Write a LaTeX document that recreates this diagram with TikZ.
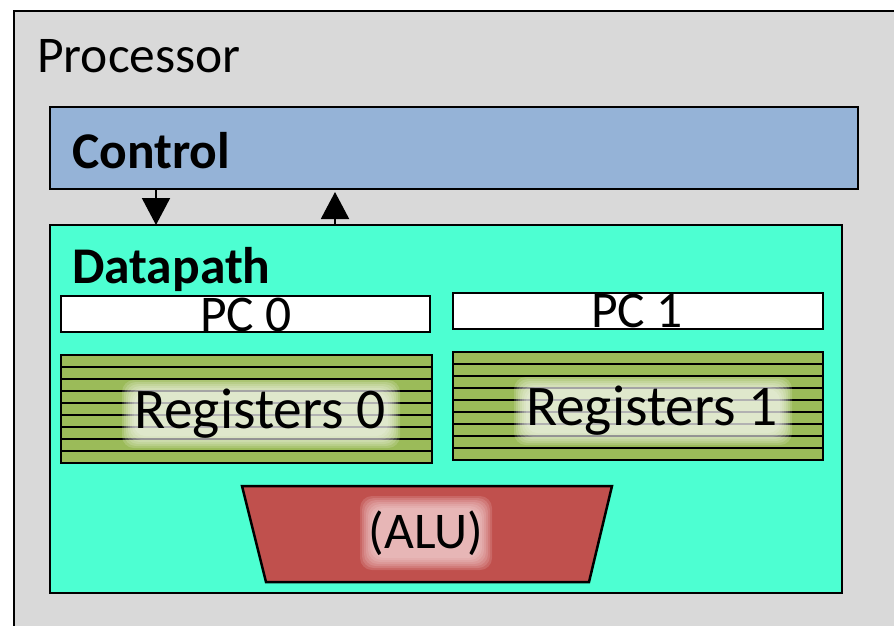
\documentclass[tikz,border=0pt]{standalone}
\usepackage{fontspec}
\setmainfont{Carlito}
\usetikzlibrary{arrows.meta,shapes.geometric}
\definecolor{procgray}{HTML}{D9D9D9}
\definecolor{ctrlblue}{HTML}{95B3D7}
\definecolor{dpaqua}{HTML}{4DFFD2}
\definecolor{reggreen}{HTML}{9BBB59}
\definecolor{alured}{HTML}{C0504D}
\definecolor{alupink}{HTML}{FBE3E3}
\tikzset{
  box/.style={draw=black, line width=2.5pt, inner sep=0pt, outer sep=0pt, anchor=north west},
  bigfont/.style={font=\fontsize{51.5}{60}\selectfont, inner sep=0pt},
  regfont/.style={font=\fontsize{57.5}{66}\selectfont, inner sep=0pt},
  boldfont/.style={font=\fontsize{51.5}{60}\selectfont\bfseries, inner sep=0pt},
  arr/.style={line width=2pt, -{Triangle[width=28pt,length=27pt]}},
  stripe/.style={line width=2pt},
}
\newcommand\glowbox[5]{% x1 y1 x2 y2 colour
  \foreach \gi in {0,...,6}{
    \fill[#5, opacity=0.16, rounded corners=12pt]
      (#1-2*\gi,#2-2*\gi) rectangle (#3+2*\gi,#4+2*\gi);
  }
}
\begin{document}
\begin{tikzpicture}[x=1pt,y=-1pt]
\clip (0,0) rectangle (894,625);
\fill[white] (0,0) rectangle (894,625);
% processor
\node[box, fill=procgray, minimum width=920pt, minimum height=640pt] (proc) at (14,11) {};
\node[bigfont, anchor=base west] (proclabel) at (37,72) {Processor};
% control
\node[box, fill=ctrlblue, minimum width=808pt, minimum height=82pt] (control) at (50,107) {};
\node[boldfont, anchor=base west] (ctrllabel) at (72,168) {Control};
% datapath
\node[box, fill=dpaqua, minimum width=792pt, minimum height=368pt] (datapath) at (50,225) {};
\node[boldfont, anchor=base west] (dplabel) at (72,283) {Datapath};
% arrows
\coordinate (dn) at (156,0);
\coordinate (up) at (335,0);
\draw[arr] (control.south -| dn) -- (datapath.north -| dn);
\draw[arr] (datapath.north -| up) -- ([yshift=-3pt]control.south -| up);
% PCs
\node[box, fill=white, minimum width=369pt, minimum height=36pt] (pc0) at (61,296) {};
\node[bigfont, anchor=base] (pc0label) at (246,331) {PC 0};
\node[box, fill=white, minimum width=370pt, minimum height=36pt] (pc1) at (453,293) {};
\node[bigfont, anchor=base] (pc1label) at (637,327) {PC 1};
% registers
\node[box, fill=reggreen, minimum width=371pt, minimum height=108pt] (reg0) at (61,355) {};
\node[box, fill=reggreen, minimum width=370pt, minimum height=108pt] (reg1) at (453,352) {};
\foreach \k in {1,...,8}{
  \draw[stripe] ([yshift=-12*\k pt]reg0.north west) -- ([yshift=-12*\k pt]reg0.north east);
  \draw[stripe] ([yshift=-12*\k pt]reg1.north west) -- ([yshift=-12*\k pt]reg1.north east);
}
\glowbox{134}{392}{388}{436}{white}
\glowbox{526}{389}{780}{433}{white}
\node[regfont, anchor=base] (reg0label) at (260,428) {Registers 0};
\node[regfont, anchor=base] (reg1label) at (652,425) {Registers 1};
% ALU
\coordinate (a1) at (242,486);
\coordinate (a2) at (612,486);
\coordinate (a3) at (589,582);
\coordinate (a4) at (266,582);
\draw[line width=2.5pt, fill=alured, line join=miter] (a1) -- (a2) -- (a3) -- (a4) -- cycle;
\glowbox{372}{508}{480}{558}{alupink}
\node[bigfont, anchor=base] (alulabel) at (426,548) {(ALU)};
\end{tikzpicture}
\end{document}
